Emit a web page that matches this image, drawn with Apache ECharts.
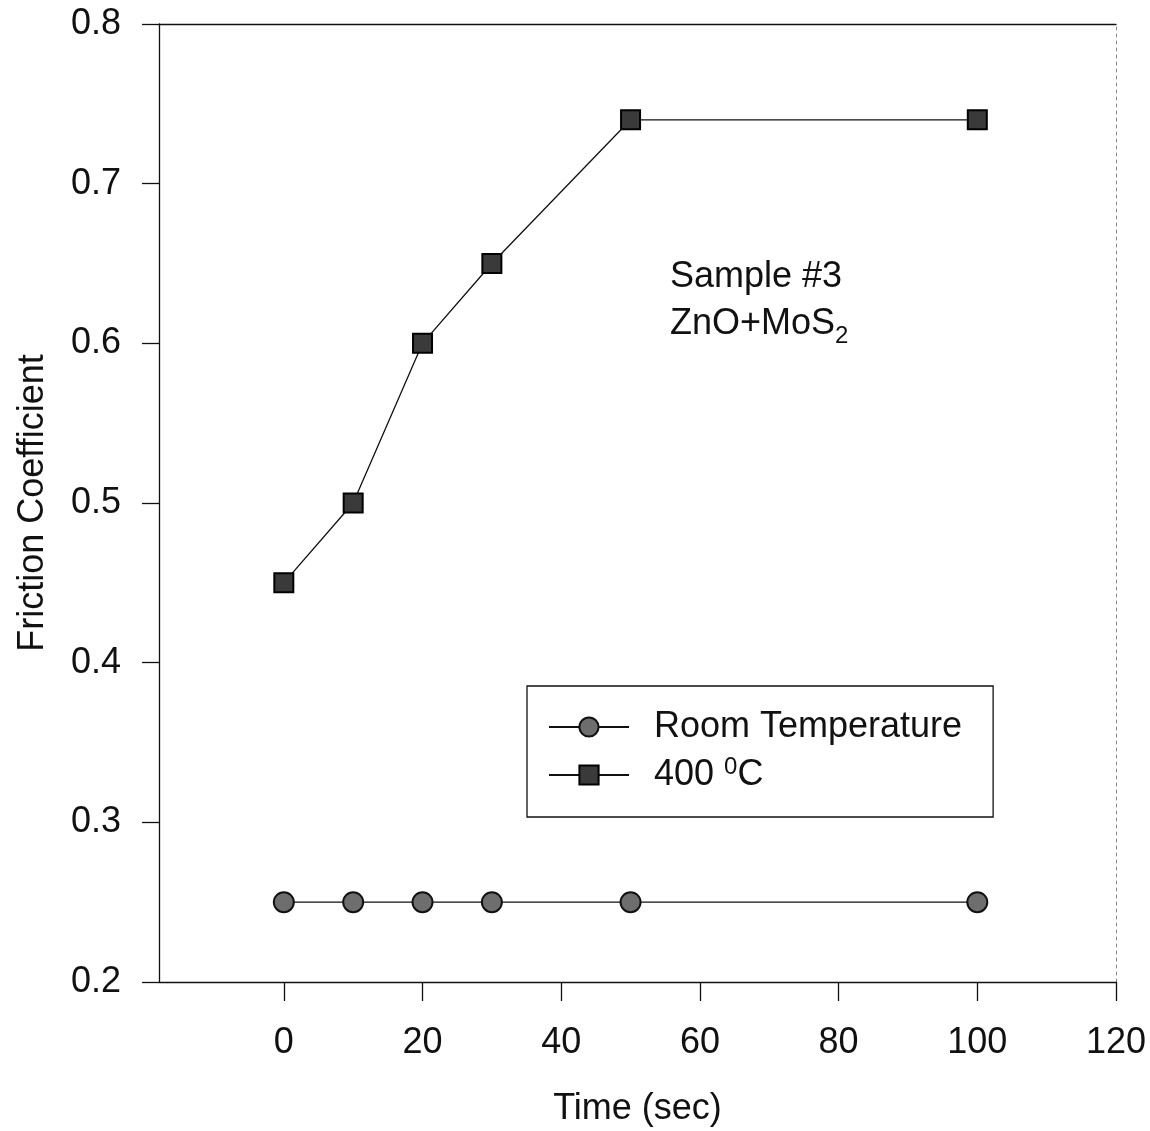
<!DOCTYPE html>
<html>
<head>
<meta charset="utf-8">
<script src="https://cdn.jsdelivr.net/npm/echarts@6/dist/echarts.min.js"></script>
<style>html,body{margin:0;padding:0;background:#fff;}#chart{width:1150px;height:1131px;}</style>
</head>
<body>
<div id="chart"></div>
<script>
const timeRoom = [0, 10, 20, 30, 50, 100];
const frictionRoom = [0.25, 0.25, 0.25, 0.25, 0.25, 0.25];
const time400 = [0, 10, 20, 30, 50, 100];
const friction400 = [0.45, 0.50, 0.60, 0.65, 0.74, 0.74];
const xTicks = [0, 20, 40, 60, 80, 100, 120];
const yTicks = [0.2, 0.3, 0.4, 0.5, 0.6, 0.7, 0.8];
const seriesNames = ['Room Temperature', '400 0C'];

const FONT = 'Liberation Sans';
const FS = 36;
const chart = echarts.init(document.getElementById('chart'));
const pair = (xs, ys) => xs.map((x, i) => [x, ys[i]]);

chart.setOption({
  animation: false,
  backgroundColor: '#fff',
  textStyle: { fontFamily: FONT },
  grid: { left: 159, right: 34, top: 24, bottom: 149, containLabel: false, outerBoundsMode: 'none' },
  xAxis: [{
    type: 'value', min: -18, max: 120, position: 'bottom',
    name: 'Time (sec)', nameLocation: 'middle', nameGap: 109,
    nameTextStyle: { fontFamily: FONT, fontSize: FS, color: '#111' },
    axisLine: { show: true, onZero: false, lineStyle: { color: '#111', width: 1.3 } },
    axisTick: { show: true, inside: false, length: 19, customValues: xTicks, lineStyle: { color: '#111', width: 1.3 } },
    axisLabel: { customValues: xTicks, margin: 43, fontFamily: FONT, fontSize: FS, color: '#111' },
    splitLine: { show: false }
  }, {
    type: 'value', min: -18, max: 120, position: 'top',
    axisLine: { show: true, onZero: false, lineStyle: { color: '#111', width: 1.3 } },
    axisTick: { show: false }, axisLabel: { show: false }, splitLine: { show: false }
  }],
  yAxis: [{
    type: 'value', min: 0.2, max: 0.8, position: 'left',
    name: 'Friction Coefficient', nameLocation: 'middle', nameGap: 108, nameRotate: 90,
    nameTextStyle: { fontFamily: FONT, fontSize: FS, color: '#111' },
    axisLine: { show: true, onZero: false, lineStyle: { color: '#111', width: 1.3 } },
    axisTick: { show: true, length: 17, customValues: yTicks, lineStyle: { color: '#111', width: 1.3 } },
    axisLabel: { customValues: yTicks, margin: 38, fontFamily: FONT, fontSize: FS, color: '#111',
      formatter: v => v.toFixed(1) },
    splitLine: { show: false }
  }, {
    type: 'value', min: 0.2, max: 0.8, position: 'right',
    axisLine: { show: true, onZero: false, lineStyle: { color: '#888', width: 1, type: [3, 4] } },
    axisTick: { show: false }, axisLabel: { show: false }, splitLine: { show: false }
  }],
  legend: {
    orient: 'vertical', left: 527, top: 686,
    data: seriesNames,
    backgroundColor: '#fff', borderColor: '#111', borderWidth: 1.3,
    padding: [23, 31, 24, 21], itemGap: 10, itemWidth: 80, itemHeight: 24,
    formatter: name => name === seriesNames[1] ? '400 {sup|0}C' : name,
    textStyle: {
      fontFamily: FONT, fontSize: FS, color: '#111', padding: [0, 0, 0, 20],
      rich: { sup: { fontFamily: FONT, fontSize: 24, color: '#111', verticalAlign: 'top', padding: [0, 0, 16, 0] } }
    }
  },
  graphic: [{
    type: 'text', left: 670, top: 254,
    style: {
      text: 'Sample #3\nZnO+MoS{sub|2}',
      fontFamily: FONT, fontSize: FS, fill: '#111', lineHeight: 47,
      rich: { sub: { fontFamily: FONT, fontSize: 24, fill: '#111', verticalAlign: 'bottom', padding: [14, 0, 0, 0] } }
    }
  }],
  series: [{
    name: seriesNames[0], type: 'line', data: pair(timeRoom, frictionRoom),
    symbol: 'circle', symbolSize: 20,
    lineStyle: { color: '#111', width: 1.3 },
    itemStyle: { color: '#6e6e6e', borderColor: '#111', borderWidth: 2 }
  }, {
    name: seriesNames[1], type: 'line', data: pair(time400, friction400),
    symbol: 'rect', symbolSize: 19,
    lineStyle: { color: '#111', width: 1.3 },
    itemStyle: { color: '#3a3a3a', borderColor: '#000', borderWidth: 2 }
  }]
});
</script>
</body>
</html>
